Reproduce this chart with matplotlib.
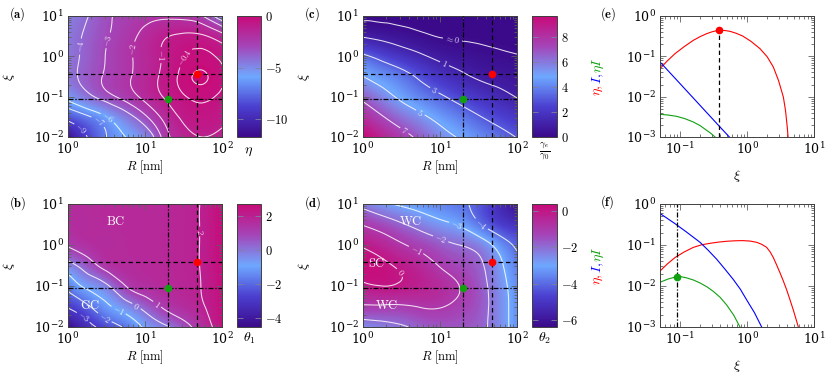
import numpy as np
import matplotlib
matplotlib.use("Agg")
import matplotlib.pyplot as plt
from matplotlib.colors import LinearSegmentedColormap, Normalize
from matplotlib.cm import ScalarMappable
from matplotlib.tri import Triangulation, UniformTriRefiner
from matplotlib.ticker import FuncFormatter

plt.rcParams.update({
    "mathtext.fontset": "cm",
    "font.family": "serif",
    "font.serif": ["DejaVu Serif"],
    "font.size": 9,
    "axes.formatter.use_mathtext": True,
    "axes.linewidth": 0.7,
    "contour.negative_linestyle": "solid",
})

# ---------------- data ----------------
logR_grid = [0.0, 0.25, 0.5, 0.75, 1.0, 1.25, 1.5, 1.75, 2.0]      # log10 R [nm]
logxi_grid = [1.0, 0.5, 0.0, -0.5, -1.0, -1.5, -2.0]                # log10 xi

eta_map = [
    [-4.6, -4.05, -3.2, -2.7, -2.4, -2.25, -2.35, -3.0, -5.0],
    [-4.5, -3.8, -3.1, -2.4, -1.7, -1.1, -0.85, -0.9, -1.6],
    [-4.4, -3.7, -2.95, -2.25, -1.55, -0.9, -0.42, -0.28, -0.5],
    [-4.4, -3.6, -2.85, -2.2, -1.5, -0.8, -0.25, -0.06, -0.35],
    [-5.6, -4.4, -3.4, -2.6, -1.7, -0.95, -0.45, -0.3, -0.5],
    [-8.3, -7.2, -6.0, -4.6, -3.2, -1.7, -0.85, -0.6, -0.8],
    [-11.5, -9.0, -7.0, -6.0, -5.0, -2.6, -1.3, -1.0, -1.2],
]
theta1_map = [
    [1.65, 1.68, 1.70, 1.72, 1.75, 1.80, 1.88, 2.05, 2.60],
    [1.60, 1.66, 1.70, 1.72, 1.75, 1.80, 1.88, 2.05, 2.60],
    [1.10, 1.50, 1.65, 1.70, 1.75, 1.80, 1.88, 2.05, 2.60],
    [-0.40, 0.50, 1.35, 1.65, 1.72, 1.80, 1.88, 2.05, 2.60],
    [-1.70, -0.78, -0.15, 1.00, 1.50, 1.72, 1.85, 2.03, 2.55],
    [-2.90, -2.15, -1.20, -0.48, 0.35, 1.15, 1.60, 1.95, 2.50],
    [-4.50, -3.40, -2.60, -1.85, -0.85, -0.20, 0.60, 1.55, 2.40],
]
gamma_map = [
    [0.03, 0.01, 0.0, 0.0, 0.0, 0.0, 0.0, 0.0, 0.0],
    [0.9, 0.65, 0.4, 0.2, 0.08, 0.05, 0.03, 0.02, 0.01],
    [3.3, 2.5, 1.8, 1.2, 0.7, 0.45, 0.3, 0.2, 0.13],
    [5.0, 4.3, 3.6, 2.7, 1.9, 1.3, 0.85, 0.65, 0.5],
    [6.6, 5.6, 4.7, 3.9, 3.2, 2.5, 1.9, 1.4, 0.95],
    [8.2, 7.1, 6.1, 5.3, 4.5, 3.8, 3.1, 2.5, 1.95],
    [9.7, 8.6, 7.6, 6.6, 5.6, 4.9, 4.2, 3.55, 2.95],
]
theta2_map = [
    [-2.3, -2.8, -3.15, -3.4, -3.6, -3.85, -4.3, -5.3, -6.3],
    [-1.05, -1.45, -1.9, -2.35, -2.75, -3.1, -3.85, -4.7, -5.2],
    [-0.1, -0.45, -0.9, -1.3, -1.7, -2.0, -2.4, -3.3, -4.2],
    [0.35, 0.15, -0.15, -0.55, -1.05, -1.4, -1.8, -2.7, -3.7],
    [-0.15, 0.0, -0.1, -0.3, -0.6, -1.0, -1.6, -2.5, -3.5],
    [-1.1, -1.1, -1.1, -0.95, -0.95, -1.2, -1.6, -2.45, -3.4],
    [-2.6, -2.35, -2.1, -1.8, -1.6, -1.6, -1.75, -2.45, -3.4],
]

R_red, xi_red = 47.0, 0.375
R_green, xi_green = 20.0, 0.09

# panel (e): log10 xi and log10 value
e_eta_lx = [-1.301, -1.19, -1.077, -0.94, -0.803, -0.70, -0.604, -0.52, -0.430, -0.34, -0.255, -0.16,
            -0.066, 0.06, 0.193, 0.30, 0.392, 0.47, 0.542, 0.575, 0.60, 0.615]
e_eta_ly = [-1.306, -1.11, -0.934, -0.76, -0.603, -0.51, -0.438, -0.39, -0.355, -0.358, -0.380, -0.43,
            -0.496, -0.63, -0.810, -1.01, -1.264, -1.60, -2.008, -2.35, -2.75, -3.05]
e_I_lx = [-1.301, -1.0, -0.7, -0.4, -0.265, -0.2]
e_I_ly = [-1.14, -1.68, -2.22, -2.76, -3.0, -3.12]
e_etaI_lx = [-1.301, -1.18, -1.052, -0.93, -0.803, -0.70, -0.604, -0.54, -0.479, -0.43]
e_etaI_ly = [-2.438, -2.455, -2.488, -2.545, -2.628, -2.72, -2.835, -2.91, -3.0, -3.08]
# panel (f)
f_eta_lx = [-1.301, -1.19, -1.077, -0.94, -0.803, -0.68, -0.554, -0.43, -0.305, -0.19, -0.066, 0.04,
            0.143, 0.22, 0.293, 0.345, 0.392, 0.44, 0.492, 0.54, 0.591, 0.64, 0.691, 0.73, 0.766, 0.78]
f_eta_ly = [-1.636, -1.46, -1.306, -1.17, -1.058, -0.995, -0.959, -0.93, -0.909, -0.898, -0.893, -0.903,
            -0.934, -0.985, -1.058, -1.17, -1.306, -1.48, -1.678, -1.87, -2.091, -2.33, -2.587, -2.8, -3.0, -3.1]
f_I_lx = [-1.301, -1.077, -0.90, -0.703, -0.58, -0.454, -0.33, -0.205, -0.10, -0.006, 0.11, 0.218, 0.25]
f_I_ly = [-0.231, -0.479, -0.69, -0.934, -1.13, -1.347, -1.59, -1.843, -2.08, -2.339, -2.65, -3.0, -3.1]
f_etaI_lx = [-1.301, -1.18, -1.062, -0.98, -0.903, -0.80, -0.703, -0.60, -0.504, -0.40, -0.305, -0.20,
             -0.106, -0.08]
f_etaI_ly = [-1.909, -1.83, -1.777, -1.775, -1.802, -1.855, -1.926, -2.02, -2.132, -2.28, -2.463, -2.71,
             -3.0, -3.1]

# ---------------- style ----------------
cmap = LinearSegmentedColormap.from_list(
    "pm", [(0.0, "#3b0a8a"), (0.25, "#4b3fd0"), (0.5, "#6ea8ff"),
           (0.75, "#a445b8"), (1.0, "#c80a78")])
RED, BLUE, GREEN = "#ff0000", "#0000ff", "#10a010"
SPINE = "#404040"
TICKC = "#606060"

W, H = 830, 377
fig = plt.figure(figsize=(W / 100, H / 100), dpi=100)


def rect(l, t, w, h):
    return [l / W, 1 - (t + h) / H, w / W, h / H]


def style_log_axes(ax):
    for s in ax.spines.values():
        s.set_color(SPINE)
        s.set_linewidth(0.7)
    ax.tick_params(which="both", direction="in", top=True, right=True,
                   color=TICKC, width=0.6, labelsize=9, pad=3)
    ax.tick_params(which="major", length=4)
    ax.tick_params(which="minor", length=2)


def grid_triangles(nx, ny):
    tris = []
    for j in range(ny - 1):
        for i in range(nx - 1):
            a = j * nx + i
            b = a + 1
            c = a + nx
            d = c + 1
            tris.append([a, c, d])
            tris.append([a, d, b])
    return tris


def heatmap(ax, cax, Z, vmin, vmax, levels, lab_levels, lab_pos, fmt, cticks, cblabel, cbly):
    X, Y = np.meshgrid(logR_grid, logxi_grid)
    tri = Triangulation(X.ravel(), Y.ravel(), grid_triangles(len(logR_grid), len(logxi_grid)))
    tr, zr = UniformTriRefiner(tri).refine_field(np.asarray(Z, float).ravel(), subdiv=4)
    trd = Triangulation(10 ** tr.x, 10 ** tr.y, tr.triangles)
    ax.set_xscale("log")
    ax.set_yscale("log")
    ax.set_xlim(1, 100)
    ax.set_ylim(0.01, 10)
    cf = ax.tricontourf(trd, zr, levels=np.linspace(vmin, vmax, 160), cmap=cmap,
                        vmin=vmin, vmax=vmax, extend="both")
    cf.set_edgecolor("face")
    cf.set_linewidth(0.4)
    cf.set_rasterized(True)
    cs = ax.tricontour(trd, zr, levels=levels, colors="white", linewidths=0.75, alpha=0.85,
                       linestyles="solid")
    ax.clabel(cs, lab_levels, manual=lab_pos, fmt=fmt, fontsize=6, inline=True, inline_spacing=2)
    ax.axvline(R_red, color="k", lw=0.9, ls=(0, (3.5, 2.5)), zorder=4)
    ax.axhline(xi_red, color="k", lw=0.9, ls=(0, (3.5, 2.5)), zorder=4)
    ax.axvline(R_green, color="k", lw=0.9, ls=(0, (4, 1.5, 1, 1.5)), zorder=4)
    ax.axhline(xi_green, color="k", lw=0.9, ls=(0, (4, 1.5, 1, 1.5)), zorder=4)
    ax.plot([R_red], [xi_red], "o", color=RED, ms=4.5, zorder=6)
    ax.plot([R_green], [xi_green], "o", color=GREEN, ms=4.5, zorder=6)
    style_log_axes(ax)
    ax.set_xlabel(r"$R\ [\mathrm{nm}]$", fontsize=9)
    ax.xaxis.set_label_coords(0.5, -0.175)
    ax.set_ylabel(r"$\xi$", fontsize=10)
    ax.yaxis.set_label_coords(-0.33, 0.5)

    cb = fig.colorbar(ScalarMappable(norm=Normalize(vmin, vmax), cmap=cmap), cax=cax)
    cb.set_ticks(cticks)
    cb.ax.yaxis.set_major_formatter(FuncFormatter(lambda v, p: f"${v:g}$"))
    cb.ax.tick_params(direction="in", length=4, color="#8080a0", width=0.6,
                      left=True, right=True, labelsize=9, pad=3)
    cb.outline.set_edgecolor(SPINE)
    cb.outline.set_linewidth(0.7)
    cax.text(0.5, cbly, cblabel, transform=cax.transAxes, ha="center", va="top", fontsize=10)


def stacked_ylabel(ax, parts, xpix):
    r = fig.canvas.get_renderer()
    texts, hs = [], []
    for s, c in parts:
        t = fig.text(0, 0, s, color=c, rotation=90, ha="center", va="bottom", fontsize=10)
        hs.append(t.get_window_extent(renderer=r).height)
        texts.append(t)
    pos = ax.get_position()
    y = (pos.y0 + pos.y1) / 2 * H - sum(hs) / 2
    for t, h in zip(texts, hs):
        t.set_position((xpix / W, y / H))
        y += h


def lineplot(ax, curves):
    ax.set_xscale("log")
    ax.set_yscale("log")
    for lx, ly, c in curves:
        ax.plot(10 ** np.asarray(lx), 10 ** np.asarray(ly), color=c, lw=0.8)
    ax.set_xlim(0.05, 10)
    ax.set_ylim(1e-3, 1)
    style_log_axes(ax)
    ax.set_xlabel(r"$\xi$", fontsize=10)
    ax.xaxis.set_label_coords(0.5, -0.255)
    stacked_ylabel(ax, [(r"$\eta,$", RED), (r"$I,$", BLUE), (r"$\eta I$", GREEN)], 598)


# ---------------- panels ----------------
ax_a = fig.add_axes(rect(68, 16, 154, 121)); cax_a = fig.add_axes(rect(237, 16, 24, 121))
ax_c = fig.add_axes(rect(363, 16, 154, 121)); cax_c = fig.add_axes(rect(532, 16, 25, 121))
ax_e = fig.add_axes(rect(660, 16, 154, 121))
ax_b = fig.add_axes(rect(68, 204, 154, 123)); cax_b = fig.add_axes(rect(237, 204, 24, 123))
ax_d = fig.add_axes(rect(363, 204, 154, 123)); cax_d = fig.add_axes(rect(532, 204, 25, 123))
ax_f = fig.add_axes(rect(660, 204, 154, 123))

heatmap(ax_a, cax_a, eta_map, -11.7, 0.0,
        [-9, -7, -6, -4, -3, -2, -1, -0.4, -0.1],
        [-9, -7, -6, -4, -3, -2, -1, -0.4],
        [(1.35, 0.0132), (2.24, 0.019), (3.47, 0.0355), (1.48, 1.74), (3.3, 2.5),
         (7.4, 1.45), (15.5, 1.07), (28.8, 1.07)],
        {-9: r"$-9$", -7: r"$-7$", -6: r"$-6$", -4: r"$-4$", -3: r"$-3$", -2: r"$-2$",
         -1: r"$-1$", -0.4: r"$-0.4$", -0.1: ""},
        [0, -5, -10], r"$\eta$", -0.06)

heatmap(ax_c, cax_c, gamma_map, 0.0, 9.7,
        [0.1, 1, 3, 5, 7], [0.1, 1, 3, 5, 7],
        [(14.1, 1.9), (11.0, 0.55), (8.5, 0.148), (5.5, 0.039), (3.5, 0.015)],
        {0.1: r"$\approx 0$", 1: r"$1$", 3: r"$3$", 5: r"$5$", 7: r"$7$"},
        [0, 2, 4, 6, 8], r"$\frac{\gamma_e}{\gamma_0}$", -0.03)

heatmap(ax_b, cax_b, theta1_map, -4.5, 2.7,
        [-3, -2, -1, 0, 1, 2], [-3, -2, -1, 0, 1, 2],
        [(1.5, 0.015), (3.0, 0.017), (4.5, 0.025), (7.8, 0.033), (14.1, 0.034), (50.0, 2.14)],
        {-3: r"$-3$", -2: r"$-2$", -1: r"$-1$", 0: r"$0$", 1: r"$1$", 2: r"$2$"},
        [2, 0, -2, -4], r"$\theta_1$", -0.03)
ax_b.text(4.1, 3.7, r"$\mathrm{BC}$", color="white", fontsize=9, ha="center", va="center")
ax_b.text(1.95, 0.034, r"$\mathrm{GC}$", color="white", fontsize=9, ha="center", va="center")

heatmap(ax_d, cax_d, theta2_map, -6.4, 0.4,
        [-4, -3, -2, -1, 0], [-4, -3, -2, -1, 0],
        [(37.0, 3.8), (16.2, 2.8), (10.5, 1.62), (4.9, 0.76), (3.0, 0.21)],
        {-4: r"$-4$", -3: r"$-3$", -2: r"$-2$", -1: r"$-1$", 0: r"$0$"},
        [0, -2, -4, -6], r"$\theta_2$", -0.03)
ax_d.text(4.1, 3.7, r"$\mathrm{WC}$", color="white", fontsize=9, ha="center", va="center")
ax_d.text(1.5, 0.35, r"$\mathrm{SC}$", color="white", fontsize=9, ha="center", va="center")
ax_d.text(2.0, 0.034, r"$\mathrm{WC}$", color="white", fontsize=9, ha="center", va="center")

lineplot(ax_e, [(e_eta_lx, e_eta_ly, RED), (e_I_lx, e_I_ly, BLUE), (e_etaI_lx, e_etaI_ly, GREEN)])
y_red = 10 ** np.interp(np.log10(xi_red), e_eta_lx, e_eta_ly)
ax_e.plot([xi_red, xi_red], [1e-3, y_red], color="k", lw=0.9, ls=(0, (3.5, 2.5)))
ax_e.plot([xi_red], [y_red], "o", color=RED, ms=4.5, zorder=6)

lineplot(ax_f, [(f_eta_lx, f_eta_ly, RED), (f_I_lx, f_I_ly, BLUE), (f_etaI_lx, f_etaI_ly, GREEN)])
y_green = 10 ** np.interp(np.log10(xi_green), f_etaI_lx, f_etaI_ly)
ax_f.axvline(xi_green, color="k", lw=0.9, ls=(0, (4, 1.5, 1, 1.5)))
ax_f.plot([xi_green], [y_green], "o", color=GREEN, ms=4.5, zorder=6)

for lab, x, y in [("(a)", 9, 14), ("(c)", 304, 14), ("(e)", 600, 14),
                  ("(b)", 9, 203), ("(d)", 304, 203), ("(f)", 600, 202)]:
    fig.text(x / W, 1 - y / H, r"$\mathbf{" + lab + "}$", ha="left", va="center", fontsize=9)

fig.savefig("out.png", dpi=100)
